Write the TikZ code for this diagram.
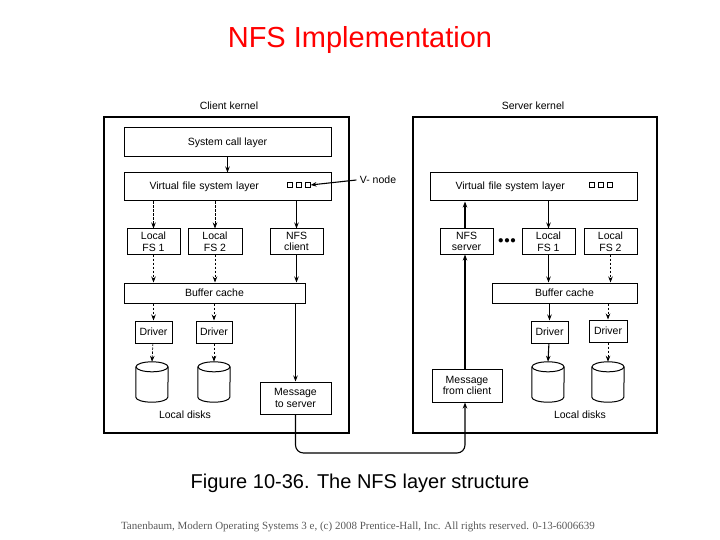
\documentclass[tikz,border=0pt]{standalone}
\usepackage{fontspec}
\setmainfont{Liberation Sans}
\newfontfamily\footfont{Liberation Serif}
\usetikzlibrary{arrows.meta}
\tikzset{
  layer/.style={draw,line width=1pt,inner sep=0pt,font=\fontsize{10.5}{11.5}\selectfont,align=center},
  disk/.style={minimum width=32pt,minimum height=40pt,inner sep=0pt},
  sq/.style={draw,line width=0.6pt,minimum size=4.5pt,inner sep=0pt},
  solid arrow/.style={-{Stealth[length=6pt,width=4.5pt]},line width=1.1pt},
  dash arrow/.style={-{Stealth[length=6pt,width=4.5pt]},dashed,dash pattern=on 2.5pt off 1.5pt,line width=0.7pt},
  small/.style={font=\fontsize{10.5}{11.5}\selectfont}
}
% cylinder in a placeholder node
\newcommand{\drawdisk}[1]{%
  \draw[line width=1pt] ([yshift=-5pt]#1.north) ellipse [x radius=16pt, y radius=5pt];
  \draw[line width=1pt] ([yshift=-5pt]#1.north west) -- ([yshift=5pt]#1.south west)
     arc[start angle=180,end angle=360,x radius=16pt,y radius=5pt] -- ([yshift=-5pt]#1.north east);}
\begin{document}
\begin{tikzpicture}[x=1pt,y=-1pt]
\useasboundingbox (0,0) rectangle (720,540);
\node[text=red,font=\fontsize{29}{32}\selectfont] (title) at (360,40) {NFS Implementation};
% kernels
\draw[line width=1.1pt] (104,117) rectangle (349,433);
\draw[line width=1.1pt] (413,117) rectangle (657,433);
\node[small] (ck) at (229,106) {Client kernel};
\node[small] (sk) at (533,106) {Server kernel};
% client side
\node[layer,minimum width=207pt,minimum height=29pt] (sys) at (227.5,142.5) {System call layer};
\node[layer,minimum width=207pt,minimum height=28pt,text width=200pt,align=left] (cvfs) at (227.5,187) {\hspace{22pt}Virtual file system layer};
\node[sq] (cv1) at (290,185) {};
\node[sq] (cv2) at (299,185) {};
\node[sq] (cv3) at (308,185) {};
\node[small] (vnode) at (378,180) {V- node};
\node[layer,minimum width=53pt,minimum height=25pt] (cfs1) at (153.5,241.5) {Local\\FS 1};
\node[layer,minimum width=54pt,minimum height=25pt] (cfs2) at (215,241.5) {Local\\FS 2};
\node[layer,minimum width=53pt,minimum height=25pt] (nfsc) at (296.5,241.5) {NFS\\client};
\node[layer,minimum width=181pt,minimum height=20pt] (cbuf) at (214.5,293) {Buffer cache};
\node[layer,minimum width=37pt,minimum height=22pt] (cdrv1) at (153.5,332) {Driver};
\node[layer,minimum width=36pt,minimum height=22pt] (cdrv2) at (214,332) {Driver};
\node[disk] (cdisk1) at (152,382) {};
\node[disk] (cdisk2) at (214,382) {};
\drawdisk{cdisk1}
\drawdisk{cdisk2}
\node[small] (cld) at (185,415) {Local disks};
\node[layer,minimum width=71pt,minimum height=32pt] (msgc) at (295.5,398) {Message\\to server};
% server side
\node[layer,minimum width=207pt,minimum height=28pt,text width=200pt,align=left] (svfs) at (533.5,187) {\hspace{22pt}Virtual file system layer};
\node[sq] (sv1) at (592,185) {};
\node[sq] (sv2) at (601,185) {};
\node[sq] (sv3) at (610,185) {};
\node[layer,minimum width=53pt,minimum height=25pt] (nfss) at (466.5,241.5) {NFS\\server};
\node[small] (dots) at (507,241) {$\bullet\!\bullet\!\bullet$};
\node[layer,minimum width=53pt,minimum height=25pt] (sfs1) at (548.5,241.5) {Local\\FS 1};
\node[layer,minimum width=53pt,minimum height=25pt] (sfs2) at (610.5,241.5) {Local\\FS 2};
\node[layer,minimum width=145pt,minimum height=20pt] (sbuf) at (564.5,293) {Buffer cache};
\node[layer,minimum width=37pt,minimum height=22pt] (sdrv1) at (549.5,332) {Driver};
\node[layer,minimum width=38pt,minimum height=22pt] (sdrv2) at (608,331) {Driver};
\node[disk] (sdisk1) at (548,382) {};
\node[disk] (sdisk2) at (608,382) {};
\drawdisk{sdisk1}
\drawdisk{sdisk2}
\node[small] (sld) at (580,415) {Local disks};
\node[layer,minimum width=70pt,minimum height=33pt] (msgs) at (467,385.5) {Message\\from client};
% arrows client
\draw[solid arrow] (sys) -- (cvfs);
\draw[solid arrow] (vnode.west) -- (cv3.east);
\draw[dash arrow] (cvfs.south -| cfs1) -- (cfs1);
\draw[dash arrow] (cvfs.south -| cfs2) -- (cfs2);
\draw[solid arrow] (cvfs.south -| nfsc) -- (nfsc);
\draw[dash arrow] (cfs1) -- (cbuf.north -| cfs1);
\draw[dash arrow] (cfs2) -- (cbuf.north -| cfs2);
\draw[solid arrow] (nfsc) -- (cbuf.north -| nfsc);
\draw[solid arrow] (cbuf.south -| msgc) -- (msgc);
\draw[dash arrow] (cbuf.south -| cdrv1) -- (cdrv1);
\draw[dash arrow] (cbuf.south -| cdrv2) -- (cdrv2);
\draw[dash arrow] (cdrv1) -- (cdisk1.north);
\draw[dash arrow] (cdrv2) -- (cdisk2.north);
% network
\draw[solid arrow,rounded corners=8pt] (msgc.south) -- (295.5,453) -- (465,453) -- (msgs.south -| 465,0);
% arrows server
\draw[solid arrow] (msgs.north -| 465,0) -- (nfss.south -| 465,0);
\draw[solid arrow] (nfss.north -| 465,0) -- (svfs.south -| 465,0);
\draw[solid arrow] (svfs.south -| sfs1) -- (sfs1);
\draw[solid arrow] (sfs1) -- (sbuf.north -| sfs1);
\draw[dash arrow] (sfs2) -- (sbuf.north -| sfs2);
\draw[solid arrow] (sbuf.south -| sdrv1) -- (sdrv1);
\draw[dash arrow] (sbuf.south -| sdrv2) -- (sdrv2);
\draw[solid arrow] (sdrv1) -- (sdisk1.north);
\draw[dash arrow] (sdrv2) -- (sdisk2.north);
% captions
\node[font=\fontsize{20}{22}\selectfont] (cap) at (360,483) {Figure 10-36. The NFS layer structure};
\node[font=\footfont\fontsize{11}{12}\selectfont,text=black!65] (foot) at (358,527) {Tanenbaum, Modern Operating Systems 3 e, (c) 2008 Prentice-Hall, Inc. All rights reserved. 0-13-6006639};
\end{tikzpicture}
\end{document}
